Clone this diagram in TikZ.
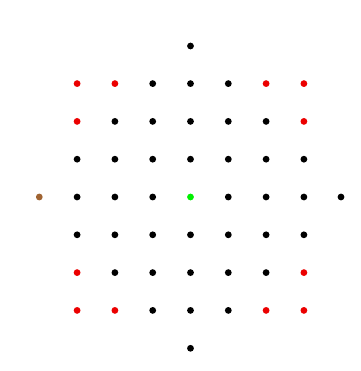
\documentclass[tikz,border=0pt]{standalone}
\definecolor{dotred}{RGB}{235,0,0}
\definecolor{dotgreen}{RGB}{0,240,0}
\definecolor{dotbrown}{RGB}{160,100,50}
\tikzset{
  dot/.style={circle,fill=black,inner sep=0pt,minimum size=6.8pt},
  reddot/.style={dot,fill=dotred},
  greendot/.style={dot,fill=dotgreen},
  browndot/.style={dot,fill=dotbrown}
}
\begin{document}
\begin{tikzpicture}[x=1pt,y=-1pt]
\useasboundingbox (0,0) rectangle (360,371);
\def\cx{190.5}\def\cy{197}\def\sp{37.8}
\foreach \i in {-3,...,3}{
  \foreach \j in {-3,...,3}{
    \pgfmathtruncatemacro{\ai}{abs(\i)}
    \pgfmathtruncatemacro{\aj}{abs(\j)}
    \pgfmathtruncatemacro{\isred}{(\ai==3 && \aj==3) || (\ai==3 && \aj==2) || (\ai==2 && \aj==3) ? 1 : 0}
    \ifnum\isred=1
      \node[reddot] (g\i\j) at (\cx+\i*\sp,\cy+\j*\sp) {};
    \else
      \ifnum\ai=0 \ifnum\aj=0
        \node[greendot] (g\i\j) at (\cx,\cy) {};
      \else
        \node[dot] (g\i\j) at (\cx+\i*\sp,\cy+\j*\sp) {};
      \fi
      \else
        \node[dot] (g\i\j) at (\cx+\i*\sp,\cy+\j*\sp) {};
      \fi
    \fi
  }
}
\node[dot] (top) at (\cx,46) {};
\node[dot] (bottom) at (\cx,348.3) {};
\node[browndot] (left) at (39.3,\cy) {};
\node[dot] (right) at (341,\cy) {};
\end{tikzpicture}
\end{document}
